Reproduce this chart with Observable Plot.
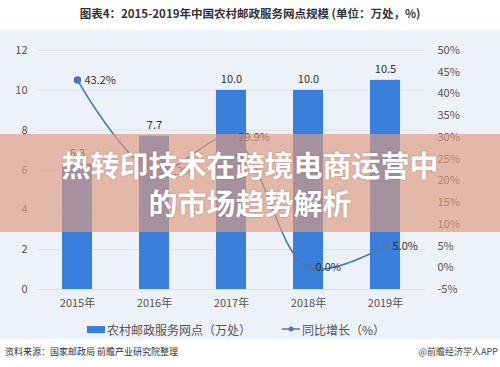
<!DOCTYPE html>
<html>
<head>
<meta charset="utf-8">
<script src="https://cdn.jsdelivr.net/npm/d3@7"></script>
<script src="https://cdn.jsdelivr.net/npm/@observablehq/plot@0.6"></script>
<style>
  html, body { margin: 0; padding: 0; background: #fff; }
  body { width: 500px; height: 367px; overflow: hidden; position: relative; font-family: "Noto Sans CJK SC", "Noto Sans", sans-serif; }
  #title { position: absolute; top: 5px; left: 0; width: 500px; text-align: center; font-size: 11.5px; font-weight: bold; color: #333; }
  #panel { position: absolute; top: 30px; left: 0; width: 500px; height: 309px; background: #edf1f8; }
  #chart { position: absolute; top: 0; left: 0; }
  #legend { position: absolute; top: 290px; left: 0; width: 500px; font-size: 12px; color: #555; }
  .lg { position: absolute; top: 0; display: flex; align-items: center; height: 18px; }
  #footer { position: absolute; top: 345px; left: 5px; font-size: 9px; color: #333; }
  #footer2 { position: absolute; top: 345px; right: 2px; font-size: 9px; color: #444; }
  #overlay { position: absolute; top: 134px; left: 0; width: 500px; height: 98px; background: rgba(223,155,128,0.66); }
  #overlayText { position: absolute; top: 145px; left: 0; width: 500px; text-align: center; color: #fff; font-weight: bold; font-size: 29px; line-height: 38px; text-shadow: 0 0 2px rgba(120,80,70,0.5); }
</style>
</head>
<body>
<div id="title">图表4：2015-2019年中国农村邮政服务网点规模 (单位：万处，%)</div>
<div id="panel">
  <div id="chart"></div>
  <div id="legend">
    <div class="lg" style="left:87px;"><span style="display:inline-block;width:18px;height:7px;background:#3a7fdb;margin-right:2px;"></span><span id="lg1"></span></div>
    <div class="lg" style="left:282px;"><svg width="18" height="8" style="margin-right:2px;"><line x1="0" y1="4" x2="18" y2="4" stroke="#4a78b8" stroke-width="1.5"/><circle cx="9" cy="4" r="2.5" fill="#4a78b8"/></svg><span id="lg2"></span></div>
  </div>
</div>
<div id="footer"></div>
<div id="footer2"></div>
<div id="overlay"></div>
<div id="overlayText">热转印技术在跨境电商运营中<br>的市场趋势解析</div>
<script>
const years = ["2015年", "2016年", "2017年", "2018年", "2019年"];
const outlets = [6.3, 7.7, 10.0, 10.0, 10.5];
const growth = [43.2, 22.2, 29.9, 0.0, 5.0];
const leftTicks = [0, 2, 4, 6, 8, 10, 12];
const rightTicks = [-5, 0, 5, 10, 15, 20, 25, 30, 35, 40, 45, 50];
const seriesNames = ["农村邮政服务网点（万处）", "同比增长（%）"];
const sourceText = "资料来源：国家邮政局 前瞻产业研究院整理";
const brandText = "@前瞻经济学人APP";

document.getElementById("lg1").textContent = seriesNames[0];
document.getElementById("lg2").textContent = seriesNames[1];
document.getElementById("footer").textContent = sourceText;
document.getElementById("footer2").textContent = brandText;

// right axis (-5%..50%) shares the left axis range (0..12)
const pctMin = rightTicks[0], pctMax = rightTicks[rightTicks.length - 1];
const yMax = leftTicks[leftTicks.length - 1];
const toY = p => (p - pctMin) * yMax / (pctMax - pctMin);
const fromY = v => Math.round(v * (pctMax - pctMin) / yMax + pctMin);

const data = years.map((y, i) => ({year: y, outlets: outlets[i], growth: growth[i]}));

const chart = Plot.plot({
  width: 500,
  height: 288,
  marginTop: 20,
  marginBottom: 29,
  marginLeft: 38,
  marginRight: 75,
  style: {background: "transparent", fontFamily: "'Noto Sans CJK SC', 'Noto Sans', sans-serif", fontSize: "11px", color: "#555"},
  x: {domain: years, paddingInner: 0.61, paddingOuter: 0.305, label: null},
  y: {domain: [0, yMax], label: null},
  marks: [
    Plot.ruleY(leftTicks, {stroke: "#dce2eb", strokeWidth: 1}),
    Plot.barY(data, {x: "year", y: "outlets", fill: "#3a7fdb"}),
    Plot.text(data, {x: "year", y: "outlets", text: d => d.outlets.toFixed(1), dy: -11, fill: "#333", fontSize: 11}),
    Plot.line(data, {x: "year", y: d => toY(d.growth), stroke: "#4a78b8", strokeWidth: 1.6, curve: "catmull-rom"}),
    Plot.dot(data, {x: "year", y: d => toY(d.growth), r: 3, fill: "#4a78b8", stroke: "#4a78b8"}),
    Plot.text(data, {x: "year", y: d => toY(d.growth), text: d => d.growth.toFixed(1) + "%", textAnchor: "start", dx: 7, fill: "#333", fontSize: 11}),
    Plot.axisX({tickSize: 0, tickPadding: 10, fill: "#555", fontSize: 11}),
    Plot.axisY(leftTicks, {anchor: "left", tickSize: 0, tickPadding: 11, fill: "#555", fontSize: 11}),
    Plot.axisY(rightTicks.map(toY), {anchor: "right", tickSize: 0, tickPadding: 12, tickFormat: v => fromY(v) + "%", fill: "#555", fontSize: 11})
  ]
});
document.getElementById("chart").appendChild(chart);
</script>
</body>
</html>
